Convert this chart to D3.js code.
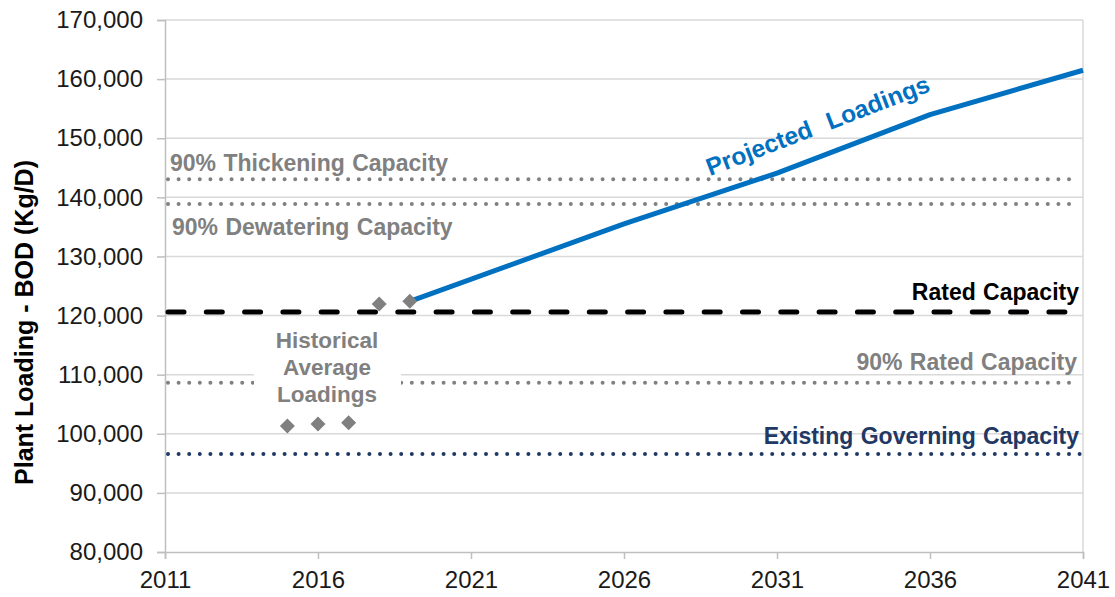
<!DOCTYPE html>
<html>
<head>
<meta charset="utf-8">
<script src="https://cdn.jsdelivr.net/npm/d3@7"></script>
<style>
  html, body { margin: 0; padding: 0; background: #fff; }
  svg { display: block; font-family: Arial, "Liberation Sans", sans-serif; }
</style>
</head>
<body>
<svg id="chart" width="1115" height="597"></svg>
<script>
// Axis ticks
const xTicks = [2011, 2016, 2021, 2026, 2031, 2036, 2041];
const yTicks = [80000, 90000, 100000, 110000, 120000, 130000, 140000, 150000, 160000, 170000];

// Historical average BOD loadings (Kg/D)
const histYears = [2015, 2016, 2017, 2018, 2019];
const histValues = [101300, 101650, 101880, 121960, 122400];

// Projected BOD loadings (Kg/D)
const projYears = [2019, 2026, 2031, 2036, 2041];
const projValues = [122400, 135500, 144100, 154000, 161500];

// Capacity reference levels (Kg/D)
const capacityNames = ["90% Thickening Capacity", "90% Dewatering Capacity", "Rated Capacity", "90% Rated Capacity", "Existing Governing Capacity"];
const capacityValues = [143050, 138870, 120600, 108650, 96600];

const svg = d3.select("#chart");
const W = 1115, H = 597;
const plotLeft = 165, plotRight = 1083, plotTop = 20, plotBottom = 552;

const x = d3.scaleLinear().domain([2011, 2041]).range([plotLeft, plotRight]);
const y = d3.scaleLinear().domain([80000, 170000]).range([plotBottom, plotTop]);

svg.append("rect").attr("width", W).attr("height", H).attr("fill", "#fff");

// Horizontal gridlines
svg.append("g")
  .selectAll("line")
  .data(yTicks.filter(v => v > 80000))
  .join("line")
  .attr("x1", plotLeft).attr("x2", plotRight)
  .attr("y1", d => y(d)).attr("y2", d => y(d))
  .attr("stroke", "#d9d9d9").attr("stroke-width", 1.5);

// Right border of plot area
svg.append("line")
  .attr("x1", plotRight).attr("x2", plotRight).attr("y1", plotTop).attr("y2", plotBottom)
  .attr("stroke", "#d9d9d9").attr("stroke-width", 1.5);

// Y axis
const yAxis = svg.append("g")
  .attr("transform", `translate(${plotLeft},0)`)
  .call(d3.axisLeft(y).tickValues(yTicks).tickSize(8).tickPadding(14)
    .tickFormat(d3.format(",")));
yAxis.select(".domain").attr("stroke", "#bfbfbf").attr("stroke-width", 1.5);
yAxis.selectAll(".tick line").attr("stroke", "#bfbfbf").attr("stroke-width", 1.5);
yAxis.selectAll(".tick text").attr("fill", "#1a1a1a").attr("font-size", 24)
  .attr("font-family", "Arial, 'Liberation Sans', sans-serif");

// X axis
const xAxis = svg.append("g")
  .attr("transform", `translate(0,${plotBottom})`)
  .call(d3.axisBottom(x).tickValues(xTicks).tickSize(7).tickPadding(12)
    .tickFormat(d3.format("d")));
xAxis.select(".domain").attr("stroke", "#bfbfbf").attr("stroke-width", 1.5);
xAxis.selectAll(".tick line").attr("stroke", "#bfbfbf").attr("stroke-width", 1.5);
xAxis.selectAll(".tick text").attr("fill", "#1a1a1a").attr("font-size", 24)
  .attr("font-family", "Arial, 'Liberation Sans', sans-serif");

// Y axis title
svg.append("text")
  .attr("transform", `translate(33,${(158 + 487) / 2}) rotate(-90)`)
  .attr("text-anchor", "middle")
  .attr("font-size", 25).attr("font-weight", "bold").attr("fill", "#000")
  .text("Plant Loading - BOD (Kg/D)");

// Capacity lines
const gray = "#808080";
const lineStyles = [
  { color: gray, width: 4, dash: "0 10.6", x0: 168, x1: 1078 },
  { color: gray, width: 4, dash: "0 10.6", x0: 168, x1: 1078 },
  { color: "#000", width: 5, dash: "16 22.3", x0: 168, x1: 1083 },
  { color: gray, width: 4, dash: "0 10.6", x0: 168, x1: 1078 },
  { color: "#1f3864", width: 4, dash: "0 10.6", x0: 168, x1: 1083 }
];
svg.append("g")
  .selectAll("line")
  .data(capacityValues)
  .join("line")
  .attr("x1", (d, i) => lineStyles[i].x0)
  .attr("x2", (d, i) => lineStyles[i].x1)
  .attr("y1", d => y(d)).attr("y2", d => y(d))
  .attr("stroke", (d, i) => lineStyles[i].color)
  .attr("stroke-width", (d, i) => lineStyles[i].width)
  .attr("stroke-dasharray", (d, i) => lineStyles[i].dash)
  .attr("stroke-linecap", "round");

// Label box for historical loadings
svg.append("rect")
  .attr("x", 254).attr("y", 320).attr("width", 147).attr("height", 96)
  .attr("fill", "#fff");

svg.append("text")
  .attr("text-anchor", "middle")
  .attr("font-size", 22.5).attr("font-weight", "bold").attr("fill", gray)
  .selectAll("tspan")
  .data(["Historical", "Average", "Loadings"])
  .join("tspan")
  .attr("x", 327)
  .attr("y", (d, i) => 348 + i * 26.8)
  .text(d => d);

// Capacity labels
const capLabels = [
  { anchor: "start", x: 170, dy: -8, color: gray },
  { anchor: "start", x: 172, dy: 31, color: gray },
  { anchor: "end", x: 1079, dy: -12, color: "#000" },
  { anchor: "end", x: 1077, dy: -13, color: gray },
  { anchor: "end", x: 1079, dy: -10, color: "#1f3864" }
];
svg.append("g")
  .selectAll("text")
  .data(capacityNames)
  .join("text")
  .attr("x", (d, i) => capLabels[i].x)
  .attr("y", (d, i) => y(capacityValues[i]) + capLabels[i].dy)
  .attr("text-anchor", (d, i) => capLabels[i].anchor)
  .attr("fill", (d, i) => capLabels[i].color)
  .attr("font-size", 23).attr("font-weight", "bold")
  .attr("word-spacing", 1)
  .text(d => d);

// Projected loadings line
const line = d3.line().x(d => x(d[0])).y(d => y(d[1]));
svg.append("path")
  .datum(projYears.map((yr, i) => [yr, projValues[i]]))
  .attr("d", line)
  .attr("fill", "none")
  .attr("stroke", "#0070c0")
  .attr("stroke-width", 5)
  .attr("stroke-linejoin", "round");

// Historical diamonds
const diamond = "M0,-7.5L7.5,0L0,7.5L-7.5,0Z";
svg.append("g")
  .selectAll("path")
  .data(histYears.map((yr, i) => [yr, histValues[i]]))
  .join("path")
  .attr("d", diamond)
  .attr("transform", d => `translate(${x(d[0])},${y(d[1])})`)
  .attr("fill", gray);

// Projected loadings label
svg.append("text")
  .attr("transform", "translate(710,176) rotate(-21)")
  .attr("font-size", 24.5).attr("font-weight", "bold").attr("fill", "#0070c0")
  .attr("word-spacing", 10)
  .text("Projected Loadings");
</script>
</body>
</html>
